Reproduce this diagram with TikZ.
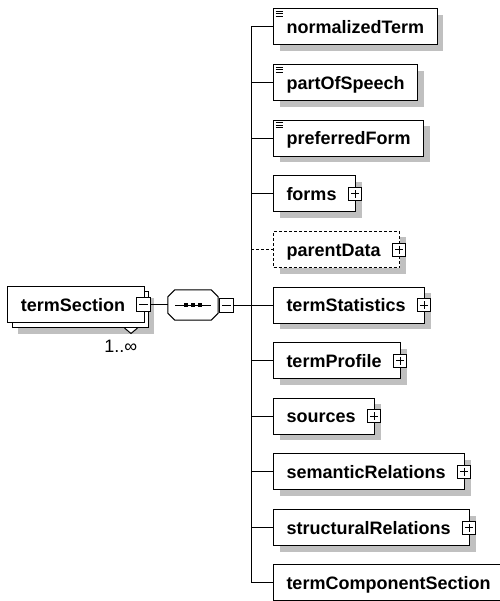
\documentclass[tikz,border=0pt]{standalone}
\usepackage{fontspec}
\setmainfont{Liberation Sans}
\usepackage{xcolor}
\usepackage{tikz}
\usetikzlibrary{shadows,calc}
\definecolor{xsdshadow}{RGB}{192,192,192}

\tikzset{
  xsdnode/.style={draw, line width=1pt, fill=white, minimum height=36pt,
    inner xsep=13pt, inner ysep=0pt, text height=13pt, text depth=0pt,
    font=\bfseries\fontsize{18}{20}\selectfont},
  xsdbox/.style={xsdnode, drop shadow={shadow xshift=6pt, shadow yshift=-6pt,
    fill=xsdshadow, opacity=1}},
  simpletype/.style={path picture={
    \foreach \k in {2.5,5,7.5}
      \draw[line width=1pt] ([shift={(2pt,-\k pt)}]path picture bounding box.north west) -- ++(7pt,0pt);}},
  minusbox/.style={draw, line width=1pt, fill=white, minimum size=14pt, inner sep=0pt,
    path picture={\draw[line width=1pt] ([xshift=2.5pt]path picture bounding box.west)
      -- ([xshift=-2.5pt]path picture bounding box.east);}},
  plusbox/.style={minusbox, minimum size=13pt,
    path picture={\draw[line width=1pt] ([xshift=2.5pt]path picture bounding box.west)
      -- ([xshift=-2.5pt]path picture bounding box.east);
      \draw[line width=1pt] ([yshift=-2.5pt]path picture bounding box.north)
      -- ([yshift=2.5pt]path picture bounding box.south);}},
  occurs/.style={font=\fontsize{18}{20}\selectfont, inner sep=0pt}
}

\begin{document}
\begin{tikzpicture}[x=1pt, y=-1pt]
  \useasboundingbox (0,0) rectangle (499,601);

  % termSection (repeated element, drawn as a stack)
  \node[xsdbox, minimum width=136pt] (tsback) at (80,309.5) {};
  \filldraw[fill=white, line width=1pt] ([xshift=-24pt]tsback.south east) -- ++(6.5,5.5)
    -- ([xshift=-11pt]tsback.south east);
  \node[xsdnode, minimum width=136pt] (ts) at (76,304.5) {termSection\hspace*{6pt}};
  \node[minusbox] (tsm) at ([xshift=-1pt]ts.east) {};
  \node[occurs, anchor=north east] (tsocc) at ([xshift=-11pt,yshift=-12pt]tsback.south east) {1..∞};

  % Sequence compositor
  \node[minimum width=50pt, minimum height=30pt, inner sep=0pt] (seq) at (193,305) {};
  \fill[xsdshadow, shift={(6,6)}] ([xshift=7pt]seq.north west) -- ([xshift=-7pt]seq.north east)
    -- ([yshift=-7pt]seq.north east) -- ([yshift=7pt]seq.south east) -- ([xshift=-7pt]seq.south east)
    -- ([xshift=7pt]seq.south west) -- ([yshift=7pt]seq.south west) -- ([yshift=-7pt]seq.north west) -- cycle;
  \filldraw[fill=white, line width=1pt] ([xshift=7pt]seq.north west) -- ([xshift=-7pt]seq.north east)
    -- ([yshift=-7pt]seq.north east) -- ([yshift=7pt]seq.south east) -- ([xshift=-7pt]seq.south east)
    -- ([xshift=7pt]seq.south west) -- ([yshift=7pt]seq.south west) -- ([yshift=-7pt]seq.north west) -- cycle;
  \draw[line width=1pt] ([xshift=-18pt]seq.center) -- ([xshift=18pt]seq.center);
  \foreach \dx in {-7,0,7}
    \fill ([xshift=\dx pt]seq.center) ++(-2,-2) rectangle ++(4,4);
  \node[minusbox, anchor=west] (seqm) at ([xshift=1pt]seq.east) {};
  \draw[line width=1pt] (tsm.east) -- (tsm.east -| seq.west);
  \coordinate (fork) at ([xshift=17pt]seqm.east);
  \draw[line width=1pt] (seqm.east) -- (fork);

  % Child elements
  \node[xsdbox, simpletype, anchor=west] (normalizedTerm) at (273,27) {normalizedTerm};
  \node[xsdbox, simpletype, anchor=west] (partOfSpeech) at (273,83) {partOfSpeech};
  \node[xsdbox, simpletype, anchor=west] (preferredForm) at (273,138.5) {preferredForm};
  \node[xsdbox, anchor=west] (forms) at (273,194) {forms\hspace*{6pt}};
  \node[plusbox] (formsx) at ([xshift=-1pt]forms.east) {};
  \node[xsdbox, dash pattern=on 3pt off 2pt, anchor=west] (parentData) at (273,249.5) {parentData\hspace*{6pt}};
  \node[plusbox] (parentDatax) at ([xshift=-1pt]parentData.east) {};
  \node[xsdbox, anchor=west] (termStatistics) at (273,305) {termStatistics\hspace*{6pt}};
  \node[plusbox] (termStatisticsx) at ([xshift=-1pt]termStatistics.east) {};
  \node[xsdbox, anchor=west] (termProfile) at (273,360.5) {termProfile\hspace*{6pt}};
  \node[plusbox] (termProfilex) at ([xshift=-1pt]termProfile.east) {};
  \node[xsdbox, anchor=west] (sources) at (273,416) {sources\hspace*{6pt}};
  \node[plusbox] (sourcesx) at ([xshift=-1pt]sources.east) {};
  \node[xsdbox, anchor=west] (semanticRelations) at (273,471.5) {semanticRelations\hspace*{6pt}};
  \node[plusbox] (semanticRelationsx) at ([xshift=-1pt]semanticRelations.east) {};
  \node[xsdbox, anchor=west] (structuralRelations) at (273,527.5) {structuralRelations\hspace*{6pt}};
  \node[plusbox] (structuralRelationsx) at ([xshift=-1pt]structuralRelations.east) {};
  \node[xsdbox, anchor=west] (termComponentSection) at (273,582.5) {termComponentSection};

  % Connectors to the children
  \foreach \n in {normalizedTerm,partOfSpeech,preferredForm,forms,termStatistics,
      termProfile,sources,semanticRelations,structuralRelations,termComponentSection}
    \draw[line width=1pt] (fork) |- (\n.west);
  \draw[line width=1pt, dash pattern=on 3pt off 2pt] (fork |- parentData.west) -- (parentData.west);
\end{tikzpicture}
\end{document}
